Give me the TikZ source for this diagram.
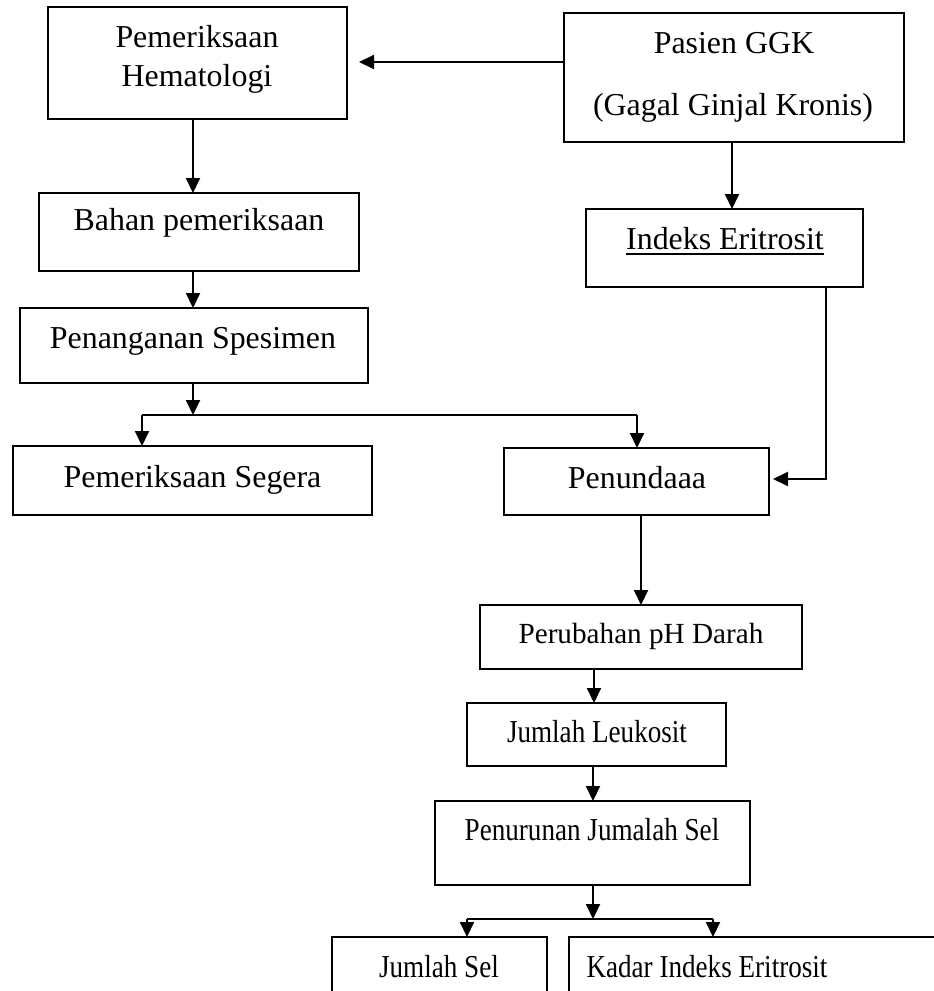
\documentclass[tikz,border=0pt]{standalone}
\usepackage{fontspec}
\setmainfont{Liberation Serif}
\usetikzlibrary{arrows.meta,calc}
\tikzset{
  box/.style={draw=black,line width=1.6pt,inner sep=0pt,outer sep=0pt},
  lbl/.style={anchor=base,inner sep=0pt,font=\fontsize{31.9}{38}\selectfont},
  lblsm/.style={anchor=base,inner sep=0pt,font=\fontsize{29.2}{35}\selectfont},
  arr/.style={line width=2pt,-{Triangle[length=15pt,width=14pt]}},
  ln/.style={line width=2pt}
}
\newcommand{\boxat}[5]{\node[box,minimum width=#4-#2,minimum height=#5-#3,anchor=north west] (#1) at (#2,#3) {};}
\newcommand{\cmp}[1]{\scalebox{0.85}[1]{#1}}
\begin{document}
\begin{tikzpicture}[x=1pt,y=-1pt]
\useasboundingbox (0,0) rectangle (934,991);
\clip (0,0) rectangle (934,991);
% boxes
\boxat{hem}{48}{7}{347}{119}
\boxat{bahan}{39}{193}{359}{271}
\boxat{penang}{20}{308}{368}{383}
\boxat{segera}{13}{446}{372}{515}
\boxat{pasien}{564}{13}{904}{142}
\boxat{indeks}{586}{209}{863}{287}
\boxat{tunda}{504}{448}{769}{515}
\boxat{ph}{480}{605}{802}{669}
\boxat{leuko}{467}{703}{726}{766}
\boxat{turun}{435}{801}{750}{885}
\boxat{jsel}{332}{937}{547}{1010}
\boxat{kadar}{569}{937}{960}{1010}
% texts
\node[lbl] (t1a) at (197,47) {Pemeriksaan};
\node[lbl] (t1b) at (197,86) {Hematologi};
\node[lbl] (t2) at (199,230) {Bahan pemeriksaan};
\node[lbl] (t3) at (193,348) {Penanganan Spesimen};
\node[lbl] (t4) at (192.5,487) {Pemeriksaan Segera};
\node[lbl] (t5a) at (734,53) {Pasien GGK};
\node[lbl] (t5b) at (733,115) {(Gagal Ginjal Kronis)};
\node[lbl] (t6) at (725,249) {Indeks Eritrosit};
\draw[line width=1.5pt] (t6.base west) ++(0,5) -- ($(t6.base east)+(0,5)$);
\node[lbl] (t7) at (637,488) {Penundaaa};
\node[lblsm] (t8) at (641,643) {Perubahan pH Darah};
\node[lbl] (t9) at (597,742) {\cmp{Jumlah Leukosit}};
\node[lbl] (t10) at (592,840) {\cmp{Penurunan Jumalah Sel}};
\node[lbl] (t11) at (439,977) {\cmp{Jumlah Sel}};
\node[lbl] (t12) at (707,977) {\cmp{Kadar Indeks Eritrosit}};
% helper coordinates
\coordinate (xL) at (193,0);
\coordinate (yP) at (0,62);
\coordinate (xP) at (732,0);
\coordinate (j1) at (193,415);
\coordinate (j1L) at (142,415);
\coordinate (j1R) at (637,415);
\coordinate (xR) at (826,0);
\coordinate (yT) at (0,479);
\coordinate (xT) at (641,0);
\coordinate (xA) at (594,0);
\coordinate (xB) at (593,0);
\coordinate (j2) at (593,919);
\coordinate (j2L) at (467,919);
\coordinate (j2R) at (713,919);
% connectors
\draw[arr,shorten >=12pt] (pasien.west |- yP) -- (hem.east |- yP);
\draw[arr] (hem.south -| xL) -- (bahan.north -| xL);
\draw[arr] (bahan.south -| xL) -- (penang.north -| xL);
\draw[arr] (penang.south -| xL) -- (j1);
\draw[ln] (j1L) -- (j1R);
\draw[arr] (j1L) -- (segera.north -| j1L);
\draw[arr] (j1R) -- (tunda.north -| j1R);
\draw[arr] (pasien.south -| xP) -- (indeks.north -| xP);
\draw[arr,shorten >=4pt] (indeks.south -| xR) |- (tunda.east |- yT);
\draw[arr] (tunda.south -| xT) -- (ph.north -| xT);
\draw[arr] (ph.south -| xA) -- (leuko.north -| xA);
\draw[arr] (leuko.south -| xB) -- (turun.north -| xB);
\draw[arr] (turun.south -| xB) -- (j2);
\draw[ln] (j2L) -- (j2R);
\draw[arr] (j2L) -- (jsel.north -| j2L);
\draw[arr] (j2R) -- (kadar.north -| j2R);
\end{tikzpicture}
\end{document}
